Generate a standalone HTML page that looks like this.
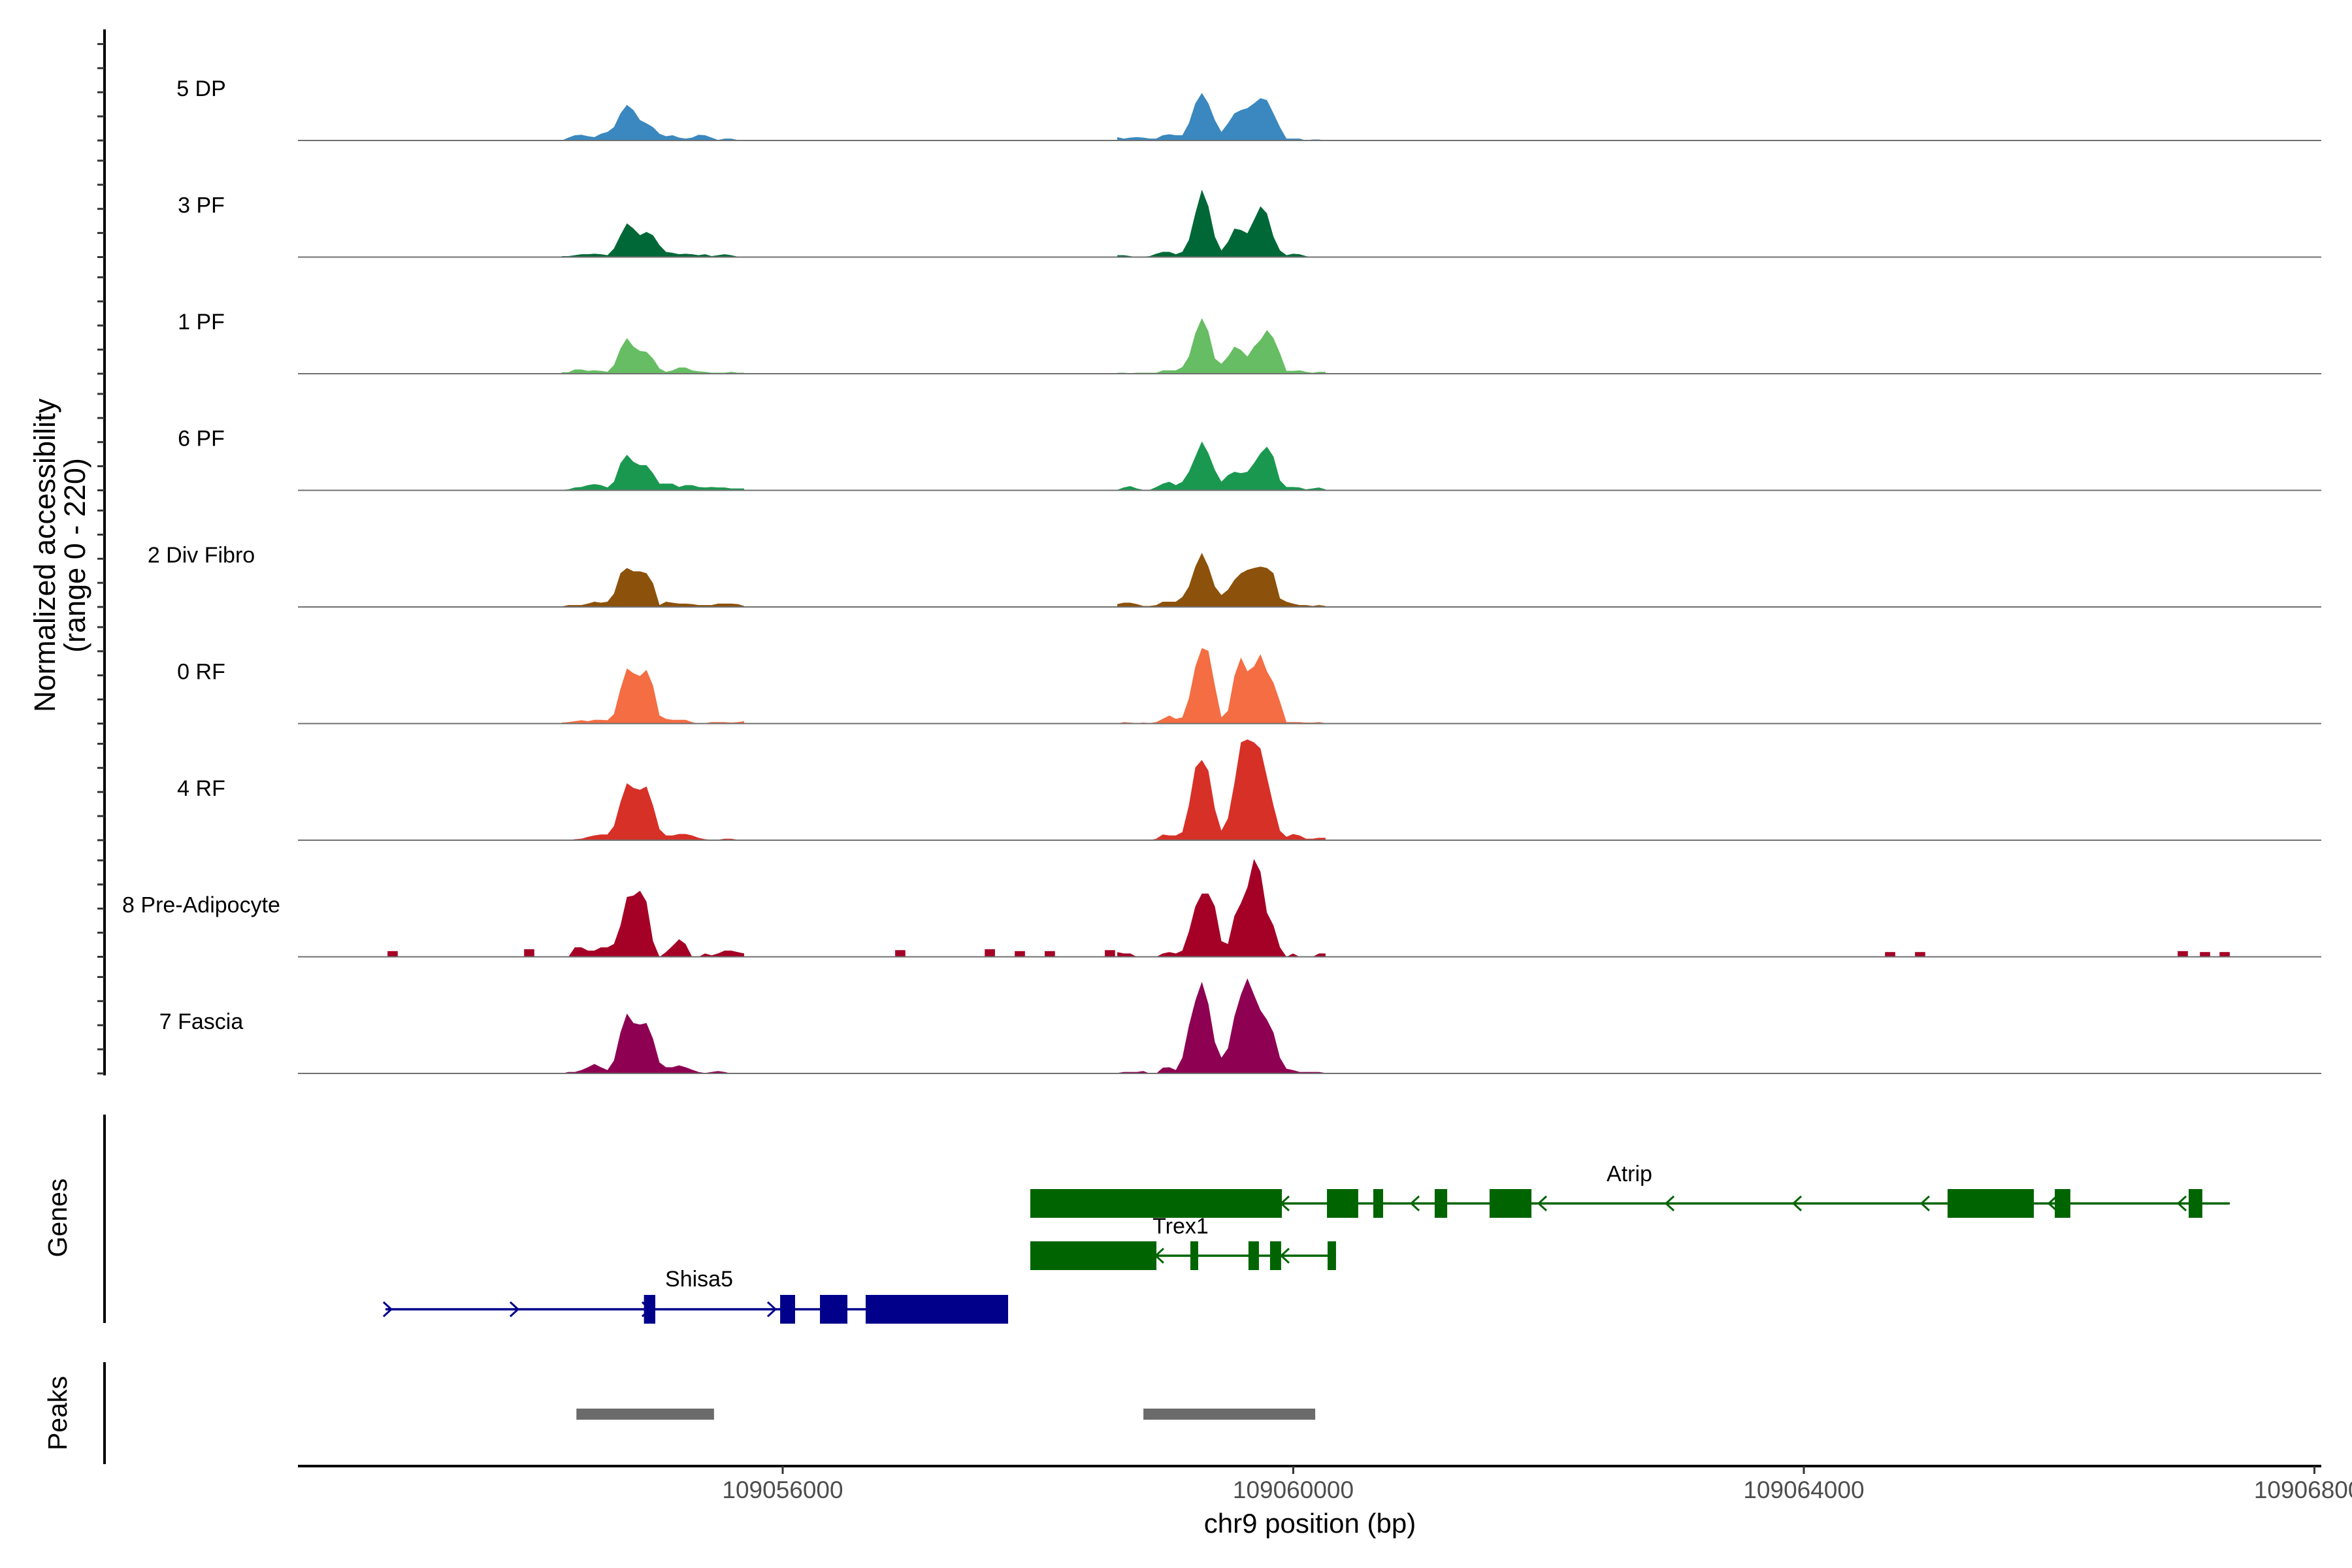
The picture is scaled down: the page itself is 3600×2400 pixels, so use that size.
<!DOCTYPE html>
<html><head><meta charset="utf-8"><style>
html,body{margin:0;padding:0;background:#fff;}
svg{display:block;font-family:"Liberation Sans",Arial,sans-serif;}
</style></head><body>
<svg id="chart" width="3600" height="2400" viewBox="0 0 3600 2400" xmlns="http://www.w3.org/2000/svg">
<rect width="3600" height="2400" fill="#fff"/>
<g id="tracks"></g>
<g id="yaxis"></g>
<text transform="translate(84,850) rotate(-90)" text-anchor="middle" font-size="45" fill="#000">Normalized accessibility</text>
<text transform="translate(130,850) rotate(-90)" text-anchor="middle" font-size="45" fill="#000">(range 0 - 220)</text>
<g id="genes"></g>
<line x1="160" y1="1706" x2="160" y2="2025" stroke="#000" stroke-width="4"/>
<text transform="translate(102,1864) rotate(-90)" text-anchor="middle" font-size="41" fill="#000">Genes</text>
<g id="peaks"></g>
<line x1="160" y1="2085" x2="160" y2="2241" stroke="#000" stroke-width="4"/>
<text transform="translate(102,2163) rotate(-90)" text-anchor="middle" font-size="41" fill="#000">Peaks</text>
<g id="xaxis"></g>
<text x="2005" y="2346" text-anchor="middle" font-size="42" fill="#000">chr9 position (bp)</text>
</svg>
<script>
const NS="http://www.w3.org/2000/svg";
// ---- data ----
const trackNames=["5 DP","3 PF","1 PF","6 PF","2 Div Fibro","0 RF","4 RF","8 Pre-Adipocyte","7 Fascia"];
const trackColors=["#3a88bf","#006837","#66bd63","#1a9850","#8c510a","#f46d43","#d73027","#a50026","#8e0152"];
const regionAStart=109054270, regionBStart=109058621, binSize=51;
const peakA_DP=[0,6,11,12,9,7,14,18,28,57,75,64,43,36,28,14,9,11,6,4,6,12,11,6,1,4,4,1,1];
const peakA_3PF=[2,2,4,6,6,7,6,4,18,46,71,60,46,53,46,25,11,9,6,7,6,4,6,2,4,6,4,1,0];
const peakA_1PF=[3,3,9,9,6,7,6,4,18,53,75,57,48,46,32,11,4,7,13,13,7,5,4,2,2,2,4,2,2];
const peakA_6PF=[1,2,6,7,11,13,11,6,18,57,75,60,53,53,36,14,14,14,7,11,11,7,6,7,6,6,4,4,4];
const peakA_Div=[1,4,4,4,7,11,9,11,28,71,82,75,75,71,50,4,11,9,7,7,6,4,4,4,7,7,7,6,2];
const peakA_0RF=[2,3,5,7,5,8,8,7,20,73,116,106,100,113,80,17,10,8,8,8,3,0,1,3,3,3,2,3,5];
const peakA_4RF=[0,0,2,3,7,10,12,12,30,80,120,110,106,113,73,23,10,10,13,13,10,5,2,1,1,3,3,1,1];
const peakA_PreAd=[0,0,20,20,13,13,20,20,27,66,126,129,139,116,33,0,10,23,37,27,0,0,7,3,7,13,13,10,7];
const peakA_Fascia=[0,3,3,7,13,20,13,7,27,86,126,106,103,106,73,23,13,13,17,13,8,3,1,3,5,3,0,0,0];
const peakB_DP=[7,4,6,7,6,4,4,11,13,11,11,36,78,100,78,43,18,36,57,64,68,78,89,85,57,28,4,4,4,0,2,2,0];
const peakB_3PF=[4,4,2,0,1,2,7,11,11,6,11,36,92,142,107,43,14,32,60,57,50,78,107,92,43,14,4,7,6,2,0,0,0];
const peakB_1PF=[2,2,1,2,2,2,2,7,7,7,14,36,85,117,89,32,21,36,57,50,36,57,71,92,75,43,6,6,7,4,2,4,4];
const peakB_6PF=[1,6,9,4,1,1,7,14,18,11,18,39,71,103,78,43,18,32,39,36,39,57,78,92,71,21,7,7,6,2,4,6,2];
const peakB_Div=[6,9,9,6,2,2,4,11,11,11,21,43,85,114,85,43,25,36,57,71,78,82,85,82,71,18,11,7,4,4,2,4,2];
const peakB_0RF=[0,3,2,1,2,1,3,10,17,10,13,53,120,159,153,80,13,27,100,139,110,120,146,110,86,46,3,3,3,2,2,3,1];
const peakB_4RF=[0,1,0,1,1,0,3,12,10,10,17,73,153,169,146,66,20,46,120,206,212,206,193,133,73,20,7,13,10,3,3,5,5];
const peakB_PreAd=[10,7,7,0,0,0,0,7,10,7,13,53,106,133,133,106,33,27,86,113,146,206,179,93,66,20,0,7,0,0,0,7,7];
const peakB_Fascia=[1,3,3,3,5,0,0,12,13,7,33,100,153,193,146,66,33,53,120,166,200,166,133,113,86,33,10,7,3,3,3,3,1];
const blipPos_PreAd=[109052944,109054014,109056921,109057623,109057858,109058093,109058564,109064676,109064911,109066969,109067143,109067297];
const blipVal_PreAd=[12,16,14,16,12,12,14,10,10,12,10,10];
const regionA=[peakA_DP,peakA_3PF,peakA_1PF,peakA_6PF,peakA_Div,peakA_0RF,peakA_4RF,peakA_PreAd,peakA_Fascia];
const regionB=[peakB_DP,peakB_3PF,peakB_1PF,peakB_6PF,peakB_Div,peakB_0RF,peakB_4RF,peakB_PreAd,peakB_Fascia];
const xTicks=[109056000,109060000,109064000,109068000];
const peakStarts=[109054384,109058826];
const peakEnds=[109055462,109060172];
// genes
const geneNames=["Atrip","Trex1","Shisa5"];
const geneStrand=[-1,-1,1];
const geneStart=[109057940,109057940,109052888];
const geneEnd=[109067337,109060335,109057766];
const exonsAtrip=[[109057940,109059911],[109060264,109060509],[109060627,109060704],[109061108,109061206],[109061538,109061866],[109065126,109065802],[109065966,109066088],[109067015,109067122]];
const exonsTrex1=[[109057940,109058928],[109059194,109059255],[109059649,109059731],[109059818,109059905],[109060269,109060335]];
const exonsShisa5=[[109054913,109055002],[109055980,109056097],[109056292,109056507],[109056650,109057766]];
const arrowsAtrip=[109059936,109060955,109061953,109062951,109063949,109064952,109065950,109066964];
const arrowsTrex1=[109058953,109059936];
const arrowsShisa5=[109052903,109053896,109054930,109055913];
// ---- scales ----
const baselines=[215,393.5,572,750.5,929,1107.5,1286,1464.5,1643];
const plotX0=456, plotX1=3553, trackPx=160, maxVal=220;
function xScale(bp){return 1198+(bp-109056000)*0.19537;}
function yScale(t,v){return baselines[t]-v*trackPx/maxVal;}
function mk(tag,attrs,parent){const e=document.createElementNS(NS,tag);for(const k in attrs)e.setAttribute(k,attrs[k]);parent.appendChild(e);return e;}
const gT=document.getElementById('tracks');
for(let t=0;t<9;t++){
  const g=mk('g',{},gT);
  
  
  const regs=[[regionAStart,regionA[t]],[regionBStart,regionB[t]]];
  for(const [st,vals] of regs){
    let d='M'+xScale(st).toFixed(1)+','+baselines[t];
    for(let i=0;i<vals.length;i++){
      const x=xScale(st+i*binSize).toFixed(1);
      d+=' L'+x+','+yScale(t,vals[i]).toFixed(1);
    }
    d+=' L'+xScale(st+(vals.length-1)*binSize).toFixed(1)+','+baselines[t]+' Z';
    const p=mk('path',{d:d,fill:trackColors[t]},g);
    
    
  }
  if(t===7){
    for(let i=0;i<blipPos_PreAd.length;i++){
      const x0=xScale(blipPos_PreAd[i]-40), x1=xScale(blipPos_PreAd[i]+40);
      const r=mk('rect',{x:x0,y:yScale(t,blipVal_PreAd[i]),width:x1-x0,height:baselines[t]-yScale(t,blipVal_PreAd[i]),fill:trackColors[t]},g);
      
      
    }
  }
  const bl=mk('line',{x1:plotX0,x2:plotX1,y1:baselines[t],y2:baselines[t],stroke:'#707070','stroke-width':2},g);
  
  
  const lb=mk('text',{x:308,y:baselines[t]-68,'text-anchor':'middle','font-size':34,fill:'#000'},g);
  lb.textContent=trackNames[t];
  
  
}
// y axis
const gY=document.getElementById('yaxis');
const yl=mk('line',{x1:160,x2:160,y1:45,y2:1646,stroke:'#000','stroke-width':4},gY);


for(let t=0;t<9;t++){for(let k=0;k<5;k++){
  const y=baselines[t]-k*36.9;
  const tk=mk('line',{x1:149,x2:160,y1:y,y2:y,stroke:'#333','stroke-width':3},gY);
  
  
}}
// genes
const gG=document.getElementById('genes');
const rowY=[1842,1922,2004];
const labelY=[1808,1888,1969];
const geneColors=["#006400","#006400","#00008b"];
const exonSets=[exonsAtrip,exonsTrex1,exonsShisa5];
const arrowSets=[arrowsAtrip,arrowsTrex1,arrowsShisa5];
const labelX=[2494,1807,1070];
for(let gi=0;gi<3;gi++){
  const g=mk('g',{},gG);
  
  
  const c=geneColors[gi], y=rowY[gi];
  const ln=mk('line',{x1:xScale(geneStart[gi]),x2:xScale(geneEnd[gi]),y1:y,y2:y,stroke:c,'stroke-width':3.5},g);
  
  
  for(const e of exonSets[gi]){
    const r=mk('rect',{x:xScale(e[0]),y:y-22,width:xScale(e[1])-xScale(e[0]),height:44,fill:c},g);
    
    
  }
  for(const a of arrowSets[gi]){
    const x=xScale(a), s=geneStrand[gi]*6;
    const p=mk('path',{d:'M'+(x-s)+','+(y-11)+' L'+(x+s)+','+y+' L'+(x-s)+','+(y+11),fill:'none',stroke:c,'stroke-width':3},g);
    
    
  }
  const tx=mk('text',{x:labelX[gi],y:labelY[gi],'text-anchor':'middle','font-size':34,fill:'#000'},g);
  tx.textContent=geneNames[gi];
  
  
}
// peaks
const gP=document.getElementById('peaks');
for(let i=0;i<peakStarts.length;i++){
  const r=mk('rect',{x:xScale(peakStarts[i]),y:2156,width:xScale(peakEnds[i])-xScale(peakStarts[i]),height:17,fill:'#6b6b6b'},gP);
  
  
}
// x axis
const gX=document.getElementById('xaxis');
const xl=mk('line',{x1:plotX0,x2:plotX1,y1:2244,y2:2244,stroke:'#000','stroke-width':4},gX);


for(const v of xTicks){
  const x=xScale(v);
  const tk=mk('line',{x1:x,x2:x,y1:2244,y2:2256,stroke:'#333','stroke-width':3},gX);
  
  
  const tl=mk('text',{x:x,y:2293,'text-anchor':'middle','font-size':37,fill:'#4d4d4d'},gX);
  tl.textContent=String(v);
  
  
}
</script>
</body></html>
